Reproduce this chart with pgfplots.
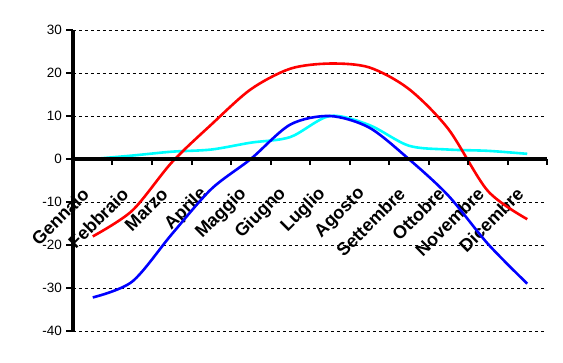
\documentclass[border=0pt]{standalone}
\usepackage{pgfplots}
\pgfplotsset{compat=1.18}
\usepackage{fontspec}
\setmainfont{Liberation Sans}
\definecolor{cyanx}{RGB}{0,255,255}
\definecolor{bluex}{RGB}{0,0,255}
\definecolor{redx}{RGB}{255,0,0}
\definecolor{ax}{RGB}{1,1,1}
\begin{document}
\begin{tikzpicture}
\useasboundingbox (-73pt,-31pt) rectangle (490pt,331pt);
\begin{axis}[
  at={(0,0)}, anchor=south west,
  scale only axis, width=474pt, height=301pt,
  xmin=-0.5, xmax=11.5, ymin=-40, ymax=30,
  axis x line=middle, axis y line=left,
  axis line style={-, draw=none},
  ytick={-40,-30,...,30},
  xtick={0,1,...,11},
  xticklabels={Gennaio,Febbraio,Marzo,Aprile,Maggio,Giugno,Luglio,Agosto,Settembre,Ottobre,Novembre,Dicembre},
  xticklabel style={font=\fontsize{18}{21}\selectfont\bfseries, anchor=east, inner sep=0pt, xshift=-7pt, yshift=-32pt, rotate=45},
  tick style={draw=none},
  major tick length=0pt,
  ymajorgrids,
  grid style={black, line width=0.8pt, dash pattern=on 3pt off 3pt},
  hide obscured x ticks=false, hide obscured y ticks=false,
  /pgf/number format/assume math mode=true,
  yticklabel style={font=\fontsize{13.5}{16}\selectfont, inner sep=0pt, xshift=-11pt},
  clip=false,
  unbounded coords=jump,
]
\addplot[draw=cyanx, line width=2.6pt, smooth] coordinates {
(0,0) (1,0.8) (2,1.7) (3,2.2) (4,3.8) (5,5.1) (6,10) (7,7.9) (8,3.1) (9,2.2) (10,1.9) (11,1.2)};
\addplot[draw=bluex, line width=2.6pt, smooth] coordinates {
(0,-32.2) (1,-28.5) (2,-17.5) (3,-7) (4,0) (5,8) (6,10) (7,7.3) (8,0) (9,-8.5) (10,-19.7) (11,-29)};
\addplot[draw=redx, line width=2.6pt, smooth] coordinates {
(0,-18) (1,-12) (2,-0.8) (3,8) (4,16.2) (5,21) (6,22.2) (7,21.3) (8,16.3) (9,7) (10,-7.4) (11,-14)};
% axis lines
\addplot[draw=ax, line width=3.2pt, solid, mark=none, forget plot] coordinates {(-0.5,0) (11.5,0)};
\addplot[draw=ax, line width=3.2pt, solid, mark=none, forget plot] coordinates {(-0.5,-40) (-0.5,30)};
% x tick marks (category boundaries)
\addplot[draw=ax, line width=2pt, solid, mark=none, forget plot] coordinates {
(0.5,0) (0.5,-1.5) (nan,nan) (1.5,0) (1.5,-1.5) (nan,nan) (2.5,0) (2.5,-1.5) (nan,nan)
(3.5,0) (3.5,-1.5) (nan,nan) (4.5,0) (4.5,-1.5) (nan,nan) (5.5,0) (5.5,-1.5) (nan,nan)
(6.5,0) (6.5,-1.5) (nan,nan) (7.5,0) (7.5,-1.5) (nan,nan) (8.5,0) (8.5,-1.5) (nan,nan)
(9.5,0) (9.5,-1.5) (nan,nan) (10.5,0) (10.5,-1.5) (nan,nan) (11.5,0) (11.5,-1.5)};
% y tick marks
\addplot[draw=ax, line width=2pt, solid, mark=none, forget plot] coordinates {
(-0.5,-40) (-0.665,-40) (nan,nan) (-0.5,-30) (-0.665,-30) (nan,nan) (-0.5,-20) (-0.665,-20) (nan,nan)
(-0.5,-10) (-0.665,-10) (nan,nan) (-0.5,0) (-0.665,0) (nan,nan) (-0.5,10) (-0.665,10) (nan,nan)
(-0.5,20) (-0.665,20) (nan,nan) (-0.5,30) (-0.665,30)};
\end{axis}
\end{tikzpicture}
\end{document}
